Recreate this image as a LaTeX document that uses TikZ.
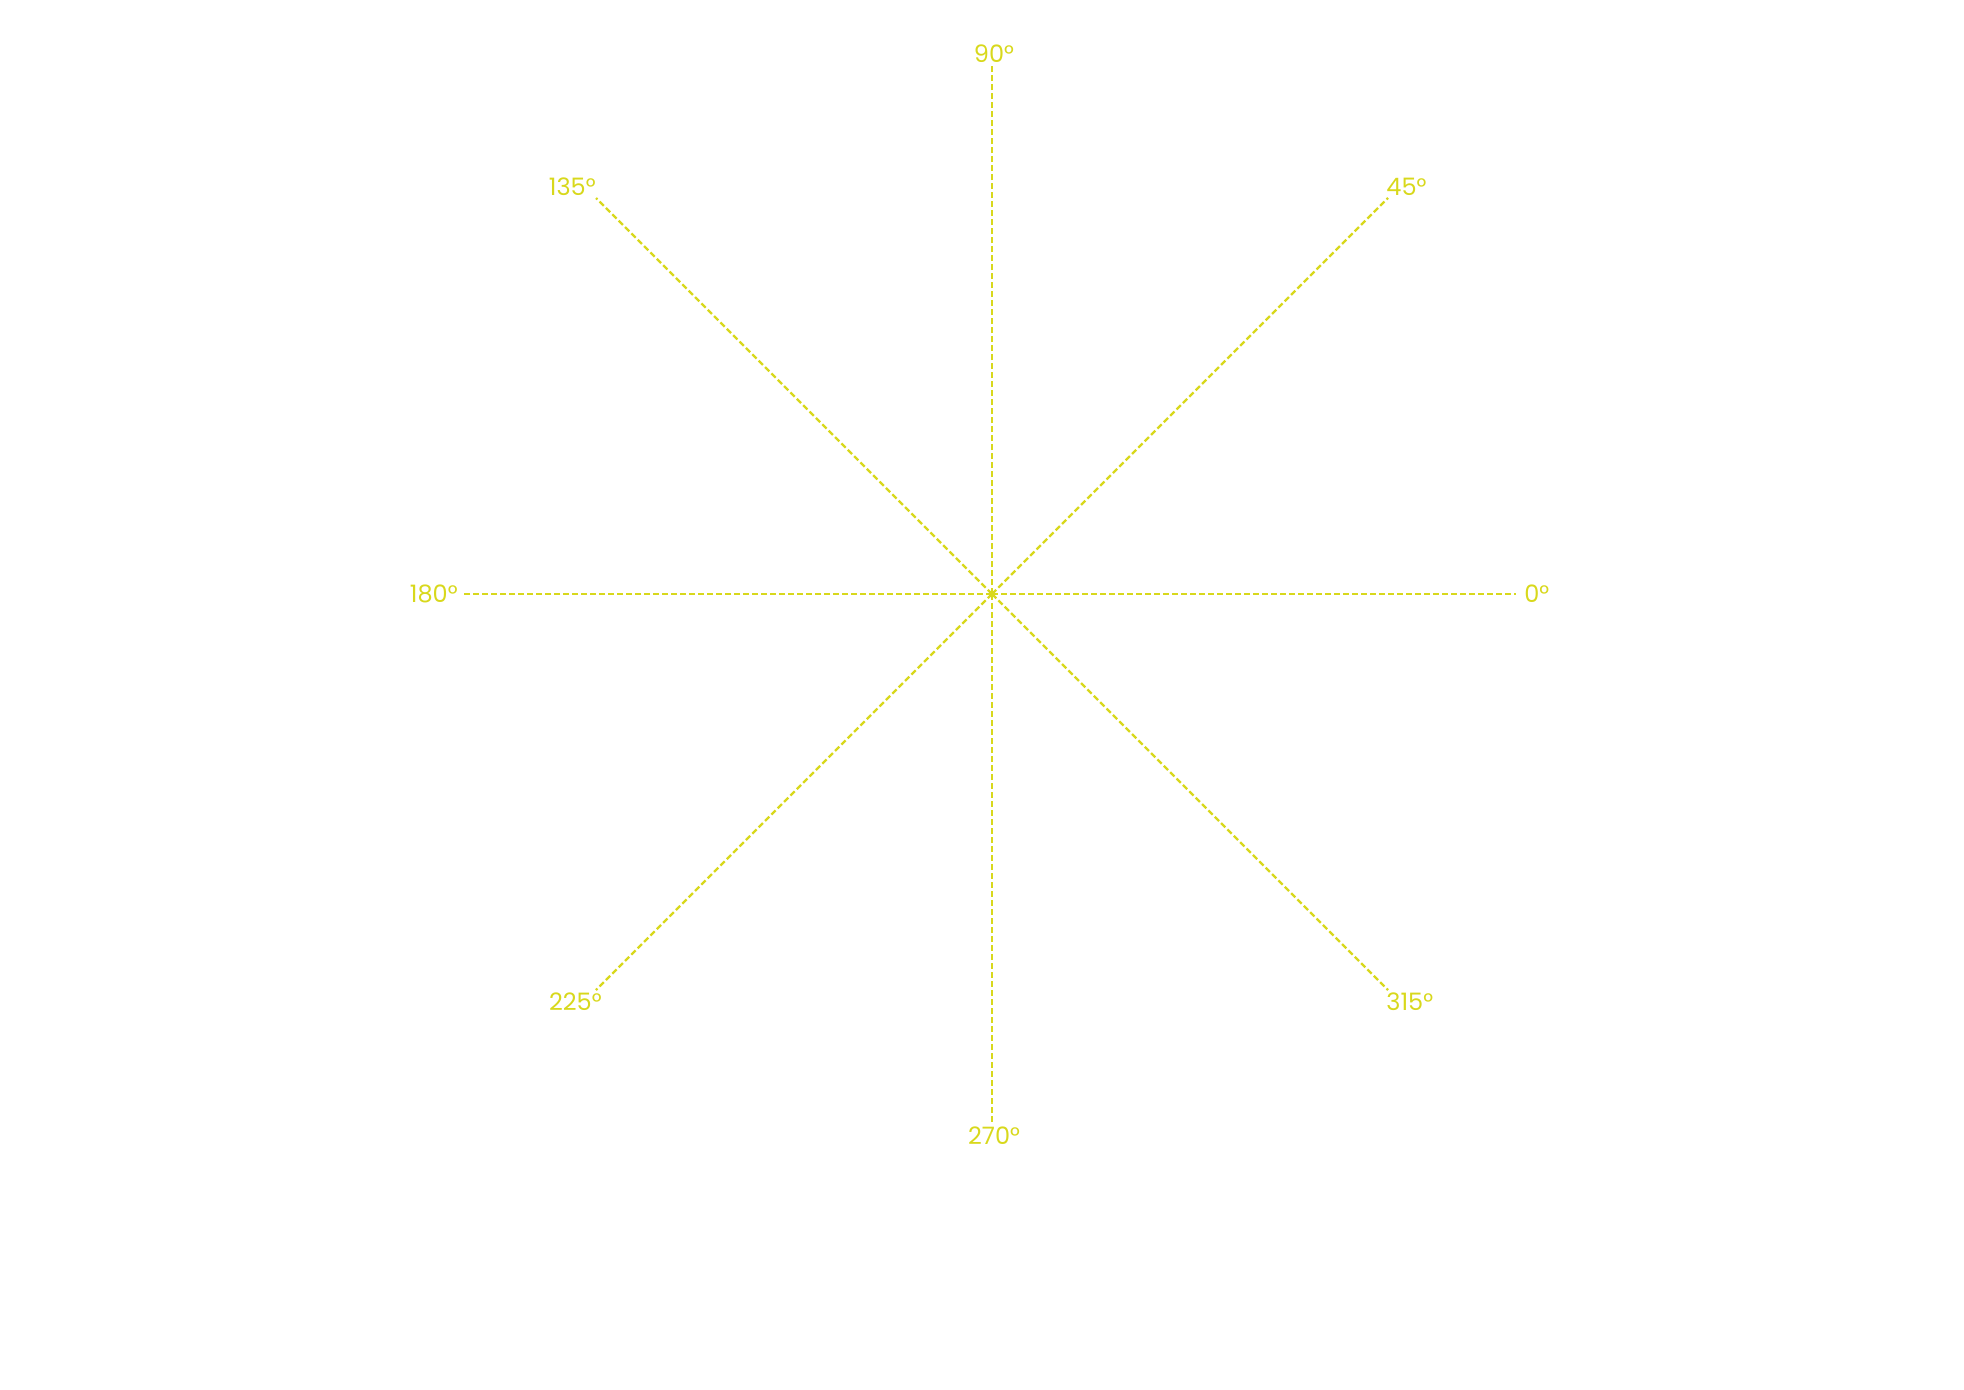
\documentclass[tikz,border=0pt]{standalone}
\usepackage{fontspec}
\setmainfont{Poppins}
\definecolor{ray}{HTML}{D8D81C}
\begin{document}
\begin{tikzpicture}[x=0.5pt,y=-0.5pt,
  rayline/.style={draw=ray, line width=1.1pt, dash pattern=on 3pt off 1.5pt},
  deglabel/.style={text=ray, font=\fontsize{12}{14}\selectfont, inner sep=1pt}]
\useasboundingbox (0,0) rectangle (1964,1389);
\coordinate (c) at (992,594);
\coordinate (e0) at (1516,594);
\coordinate (e45) at (1388,198);
\coordinate (e90) at (992,65);
\coordinate (e135) at (596,198);
\coordinate (e180) at (461,594);
\coordinate (e225) at (596,990);
\coordinate (e270) at (992,1124);
\coordinate (e315) at (1388,990);
\foreach \a in {0,45,90,135,180,225,270,315}{
  \draw[rayline] (c) -- (e\a);
}
\node[deglabel, anchor=west] (l0) at ([xshift=3pt]e0) {0°};
\node[deglabel, anchor=south west] (l45) at ([xshift=-2pt,yshift=0pt]e45) {45°};
\node[deglabel, anchor=south] (l90) at ([xshift=1pt]e90) {90°};
\node[deglabel, anchor=south east] (l135) at ([xshift=1pt,yshift=0pt]e135) {135°};
\node[deglabel, anchor=east] (l180) at ([xshift=-0.5pt]e180) {180°};
\node[deglabel, anchor=north east] (l225) at ([xshift=4pt,yshift=0pt]e225) {225°};
\node[deglabel, anchor=north] (l270) at ([xshift=1pt]e270) {270°};
\node[deglabel, anchor=north west] (l315) at ([xshift=-2pt,yshift=0pt]e315) {315°};
\end{tikzpicture}
\end{document}
